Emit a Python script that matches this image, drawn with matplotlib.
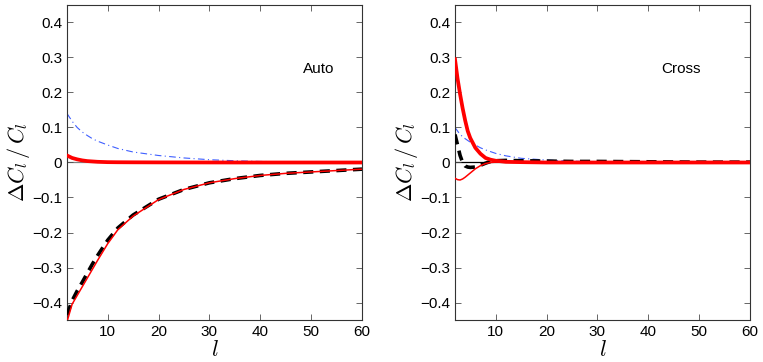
import matplotlib
matplotlib.use("Agg")
import matplotlib.pyplot as plt

plt.rcParams['font.family'] = ['Liberation Sans', 'DejaVu Sans']
plt.rcParams['mathtext.fontset'] = 'cm'

# Auto panel
l_auto = [2, 3, 4, 5, 6, 7, 8, 10, 12, 15, 20, 25, 30, 35, 40, 45, 50, 55, 60]
auto_blue = [0.14, 0.118, 0.10, 0.087, 0.077, 0.068, 0.061, 0.05, 0.04, 0.03,
             0.02, 0.013, 0.008, 0.005, 0.003, 0.002, 0.001, 0.0005, 0.0]
auto_red_thick = [0.02, 0.013, 0.009, 0.006, 0.004, 0.003, 0.002, 0.001, 0.0007, 0.0005,
                  0.0003, 0.0002, 0.0001, 0.0, 0.0, 0.0, 0.0, 0.0, 0.0]
auto_black = [-0.435, -0.395, -0.367, -0.342, -0.316, -0.29, -0.266, -0.222, -0.187, -0.15,
              -0.105, -0.077, -0.058, -0.046, -0.037, -0.031, -0.027, -0.023, -0.019]
auto_red_thin = [-0.455, -0.405, -0.38, -0.355, -0.33, -0.305, -0.28, -0.232, -0.192, -0.153,
                 -0.106, -0.077, -0.058, -0.046, -0.037, -0.031, -0.027, -0.023, -0.019]

# Cross panel
l_cross = [2, 2.5, 3, 3.5, 4, 4.5, 5, 6, 7, 8, 9, 10, 12, 15, 20, 25, 30, 40, 50, 60]
cross_blue = [0.1, 0.09, 0.08, 0.074, 0.068, 0.063, 0.058, 0.05, 0.042, 0.036, 0.031, 0.026,
              0.019, 0.012, 0.007, 0.004, 0.002, 0.001, 0.0, 0.0]
cross_red_thick = [0.295, 0.24, 0.195, 0.155, 0.12, 0.09, 0.07, 0.042, 0.025, 0.013, 0.008, 0.005,
                   0.002, 0.001, 0.0, 0.0, 0.0, 0.0, 0.0, 0.0]
cross_black = [0.08, 0.05, 0.02, 0.0, -0.01, -0.013, -0.014, -0.013, -0.008, -0.002, 0.003, 0.005,
               0.006, 0.005, 0.004, 0.003, 0.003, 0.002, 0.001, 0.001]
cross_red_thin = [-0.045, -0.049, -0.05, -0.047, -0.042, -0.036, -0.03, -0.018, -0.009, -0.003, 0.0, 0.001,
                  0.0005, 0.0, 0.0, 0.0, 0.0, 0.0, 0.0, 0.0]

panels = [
    ("Auto", l_auto, auto_blue, auto_red_thick, auto_black, auto_red_thin, 48.4, '0.5'),
    ("Cross", l_cross, cross_blue, cross_red_thick, cross_black, cross_red_thin, 42.6, 'black'),
]

fig = plt.figure(figsize=(7.63, 3.62), dpi=100)
lefts = [67 / 763, 455 / 763]

for (label, l, blue, red_thick, black, red_thin, tx, zcol), left in zip(panels, lefts):
    ax = fig.add_axes([left, 42 / 362, 295 / 763, 315 / 362])
    ax.axhline(0, color=zcol, lw=0.9, zorder=1)
    ax.plot(l, blue, color='#3f5fff', lw=0.8, linestyle=(0, (6, 3, 1, 3)), zorder=2)
    ax.plot(l, black, color='black', lw=2.6, linestyle=(0, (2.8, 1.8)), zorder=3)
    ax.plot(l, red_thin, color='red', lw=1.1, zorder=4)
    ax.plot(l, red_thick, color='red', lw=2.7, zorder=5)
    ax.text(tx, 0.267, label, fontsize=11, va='center', ha='left')

    ax.set_xlim(2, 60)
    ax.set_ylim(-0.45, 0.45)
    ax.set_xticks([10, 20, 30, 40, 50, 60])
    ax.set_yticks([-0.4, -0.3, -0.2, -0.1, 0, 0.1, 0.2, 0.3, 0.4])
    ax.set_yticklabels(['\u22120.4', '\u22120.3', '\u22120.2', '\u22120.1', '0',
                        '0.1', '0.2', '0.3', '0.4'])
    ax.tick_params(direction='in', length=4, width=0.6, labelsize=11,
                   top=True, right=True, color='0.3')
    for s in ax.spines.values():
        s.set_linewidth(0.8)
        s.set_color('0.2')
    ax.set_xlabel('$l$', fontsize=16, labelpad=1)
    ax.set_ylabel('$\\Delta C_l\\,/\\,C_l$', fontsize=16, labelpad=0)

fig.savefig('out.png', dpi=100)
